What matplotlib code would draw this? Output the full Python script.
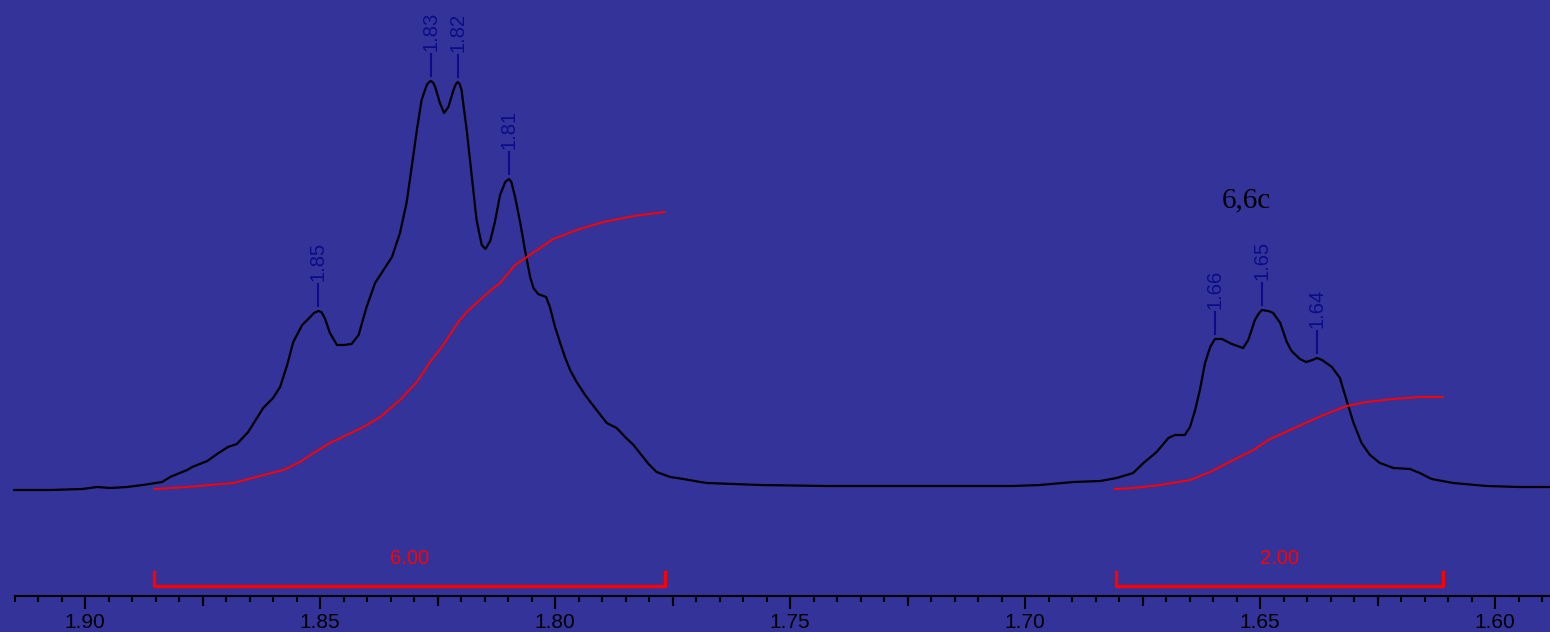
import numpy as np
import matplotlib.pyplot as plt
from matplotlib.ticker import MultipleLocator, FormatStrFormatter

# 1H spectrum trace (ppm, intensity in arbitrary units)
ppm = [1.9151, 1.9074, 1.9006, 1.8974, 1.8947, 1.8911, 1.8877, 1.8836, 1.8819,
       1.8783, 1.8772, 1.8740, 1.8719, 1.8696, 1.8677, 1.8653, 1.8621, 1.8600,
       1.8585, 1.8570, 1.8557, 1.8538, 1.8521, 1.8513, 1.8504, 1.8497, 1.8490,
       1.8479, 1.8464, 1.8449, 1.8433, 1.8418, 1.8401, 1.8383, 1.8365, 1.8347,
       1.8330, 1.8316, 1.8305, 1.8294, 1.8284, 1.8273, 1.8268, 1.8264, 1.8259,
       1.8255, 1.8245, 1.8236, 1.8227, 1.8216, 1.8211, 1.8207, 1.8203, 1.8199,
       1.8188, 1.8177, 1.8167, 1.8156, 1.8148, 1.8138, 1.8128, 1.8117, 1.8106,
       1.8101, 1.8098, 1.8093, 1.8085, 1.8074, 1.8064, 1.8053, 1.8046, 1.8036,
       1.8019, 1.8011, 1.8000, 1.7989, 1.7979, 1.7968, 1.7954, 1.7936, 1.7915,
       1.7890, 1.7869, 1.7851, 1.7833, 1.7816, 1.7801, 1.7784, 1.7755, 1.7727,
       1.7691, 1.7677, 1.7564, 1.7422, 1.7266, 1.7025, 1.6968, 1.6897, 1.6840,
       1.6805, 1.6770, 1.6748, 1.6720, 1.6695, 1.6681, 1.6660, 1.6649, 1.6638,
       1.6628, 1.6617, 1.6606, 1.6596, 1.6581, 1.6560, 1.6536, 1.6525, 1.6511,
       1.6502, 1.6496, 1.6482, 1.6472, 1.6457, 1.6443, 1.6433, 1.6415, 1.6402,
       1.6388, 1.6379, 1.6368, 1.6347, 1.6330, 1.6316, 1.6301, 1.6284, 1.6266,
       1.6245, 1.6216, 1.6181, 1.6160, 1.6135, 1.6089, 1.6018, 1.5947, 1.5883]
intensity = [0, 0, 1, 3, 2, 3, 5, 8, 13,
             20, 23, 29, 36, 43, 46, 58, 82, 92,
             103, 125, 148, 165, 173, 177, 179, 178, 172,
             157, 145, 145, 146, 155, 183, 207, 220, 233,
             257, 287, 323, 360, 390, 405, 408, 409, 407,
             403, 387, 377, 383, 400, 406, 408, 406, 400,
             360, 313, 270, 245, 241, 249, 268, 295, 308,
             310, 311, 308, 293, 267, 240, 213, 202, 196,
             193, 183, 163, 147, 133, 120, 108, 95, 82,
             67, 62, 53, 45, 35, 26, 18, 13, 11,
             8, 7, 5, 4, 4, 4, 5, 8, 9,
             12, 17, 27, 38, 52, 55, 55, 63, 80,
             100, 127, 143, 151, 151, 146, 142, 150, 170,
             177, 180, 179, 177, 167, 148, 139, 131, 128,
             130, 132, 130, 123, 112, 90, 67, 47, 35,
             27, 22, 21, 17, 11, 7, 4, 3, 3]

# integral curves
int1_ppm = [1.8853, 1.8784, 1.8684, 1.8628, 1.8578, 1.8543, 1.8514, 1.8479,
            1.8443, 1.8408, 1.8372, 1.8330, 1.8294, 1.8266, 1.8238, 1.8206,
            1.8188, 1.8160, 1.8131, 1.8117, 1.8085, 1.8060, 1.8004, 1.7954,
            1.7897, 1.7833, 1.7767]
int1_val = [1, 3, 7, 14, 20, 28, 37, 47,
            55, 63, 73, 90, 108, 128, 145, 168,
            178, 190, 202, 207, 225, 233, 251, 260,
            268, 274, 278]
int2_ppm = [1.6809, 1.6770, 1.6713, 1.6649, 1.6606, 1.6557, 1.6514, 1.6479,
            1.6450, 1.6408, 1.6365, 1.6316, 1.6273, 1.6216, 1.6160, 1.6111]
int2_val = [1, 2, 5, 10, 18, 30, 40, 51,
            57, 66, 75, 84, 88, 91, 93, 93]

# integration ranges and values
ranges = [(1.8853, 1.7767), (1.6806, 1.6111)]
integrals = [6.00, 2.00]

# picked peaks
peaks = [1.8504, 1.8264, 1.8207, 1.8098, 1.6596, 1.6496, 1.6379]

bg = '#333399'
navy = '#0c0c88'

fig = plt.figure(figsize=(15.5, 6.32), dpi=100, facecolor=bg)
ax = fig.add_axes([0, 0, 1, 1], facecolor=bg)
ax.set_xlim(1.9181, 1.5883)
ax.set_ylim(-142, 490)

ax.plot(ppm, intensity, color='black', lw=1.6, solid_joinstyle='round')
ax.plot(int1_ppm, int1_val, color='red', lw=1.4)
ax.plot(int2_ppm, int2_val, color='red', lw=1.4)

# peak labels
sp_x = np.array(ppm)[::-1]
sp_y = np.array(intensity)[::-1]
for p in peaks:
    h = np.interp(p, sp_x, sp_y)
    ax.plot([p, p], [h + 5, h + 27], color=navy, lw=1.5)
    ax.text(p, h + 30, f'{p:.2f}', rotation=90, ha='center', va='bottom',
            color=navy, fontsize=14.5, family='Liberation Sans')

# integration brackets
for (a, b), val in zip(ranges, integrals):
    ax.plot([a, a, b, b], [-82, -96, -96, -82], color='red', lw=2.4)
    ax.text((a + b) / 2, -68, f'{val:.2f}', ha='center', va='center',
            color='red', fontsize=14.5, family='Liberation Sans')

ax.text(1.6530, 283, '6,6c', ha='center', va='baseline', color='black',
        fontsize=21, family='Liberation Serif')

# ppm scale
for s in ['top', 'left', 'right']:
    ax.spines[s].set_visible(False)
ax.spines['bottom'].set_position(('data', -106))
ax.spines['bottom'].set_bounds(1.9149, 1.5883)
ax.spines['bottom'].set_linewidth(1.5)
ax.yaxis.set_visible(False)
ax.xaxis.set_major_locator(MultipleLocator(0.05))
ax.xaxis.set_minor_locator(MultipleLocator(0.005))
ax.xaxis.set_major_formatter(FormatStrFormatter('%.2f'))
ax.tick_params(axis='x', which='major', direction='out', length=9, width=1.5,
               pad=3, labelsize=15, colors='black')
ax.tick_params(axis='x', which='minor', direction='out', length=4.5, width=1.5)
for lab in ax.get_xticklabels():
    lab.set_family('Liberation Sans')
mid = np.arange(1.575, 1.925, 0.05)
mid = mid[(mid < 1.9149) & (mid > 1.5883)]
ax.vlines(mid, -116, -106, color='black', lw=1.5)

fig.savefig('out.png', dpi=100, facecolor=bg)
